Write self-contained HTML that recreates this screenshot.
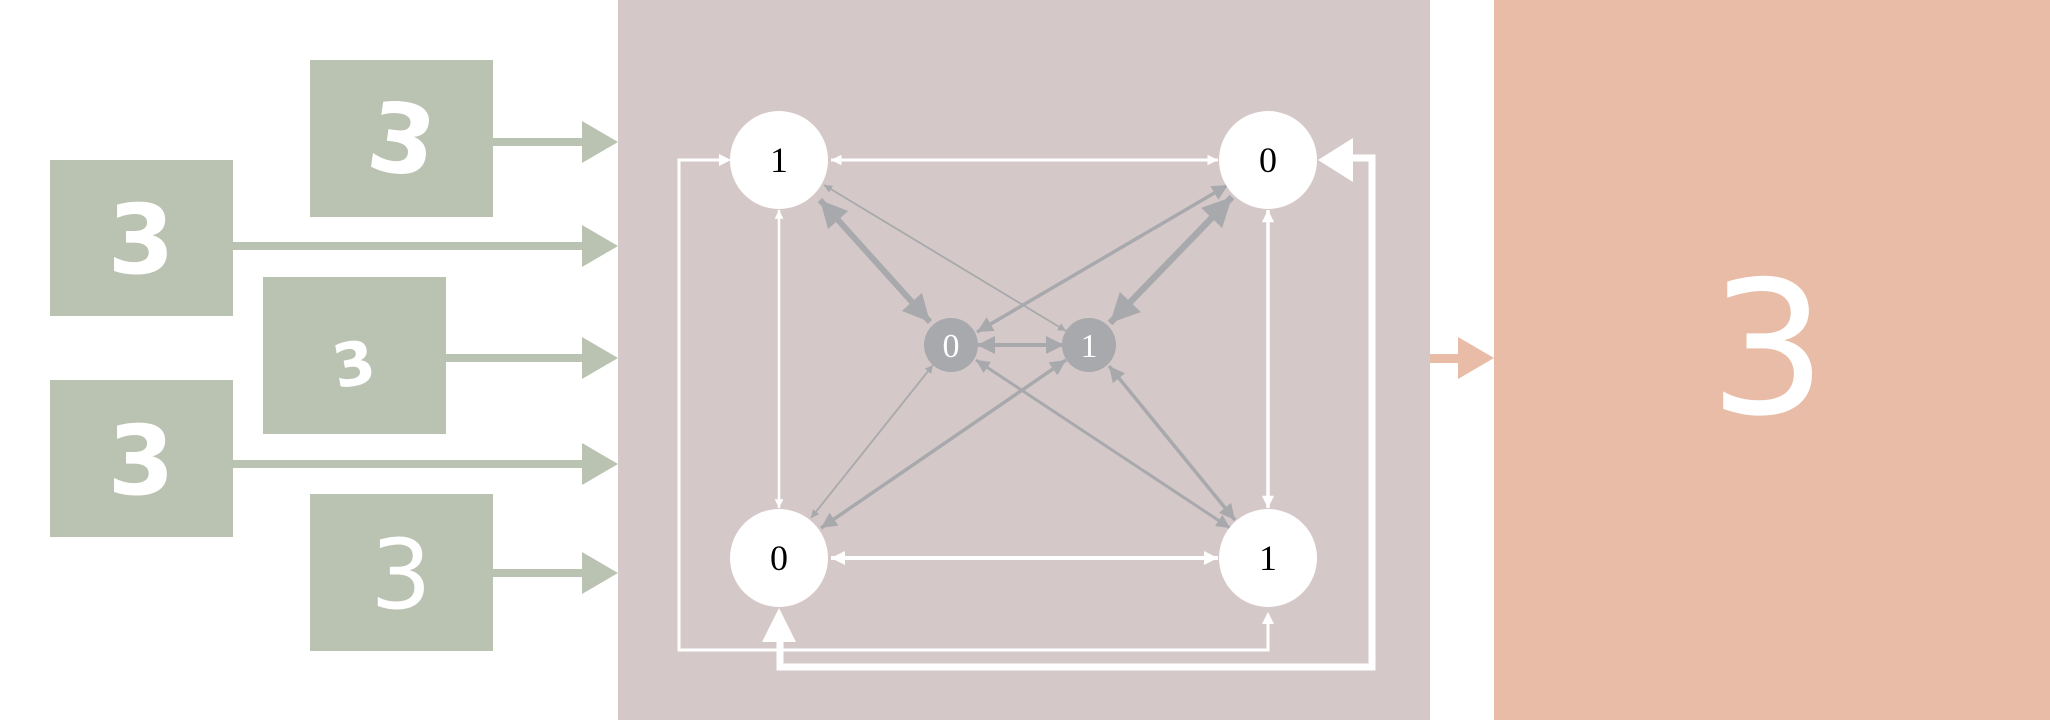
<!DOCTYPE html>
<html><head><meta charset="utf-8"><style>
html,body{margin:0;padding:0;background:#fff;}
svg{display:block;}
</style></head><body>
<svg width="2050" height="720" viewBox="0 0 2050 720" xmlns="http://www.w3.org/2000/svg">
<defs>
<marker id="wa" viewBox="0 0 10 10" refX="10" refY="5" markerWidth="4.5" markerHeight="3.5" orient="auto-start-reverse" markerUnits="strokeWidth"><path d="M0,0 L10,5 L0,10 z" fill="#fff"/></marker>
<marker id="ga" viewBox="0 0 10 10" refX="10" refY="5" markerWidth="5" markerHeight="4.5" orient="auto-start-reverse" markerUnits="strokeWidth"><path d="M0,0 L10,5 L0,10 z" fill="#a8a9ad"/></marker>
</defs>
<g fill="#bac2b1">
<rect x="310" y="60" width="183" height="157"/>
<rect x="50" y="160" width="183" height="156"/>
<rect x="263" y="277" width="183" height="157"/>
<rect x="50" y="380" width="183" height="157"/>
<rect x="310" y="494" width="183" height="157"/>
<rect x="493" y="138" width="90" height="8"/>
<rect x="233" y="242" width="350" height="8"/>
<rect x="446" y="354" width="137" height="8"/>
<rect x="233" y="460" width="350" height="8"/>
<rect x="493" y="569" width="90" height="8"/>
<path d="M582,121 L618,142 L582,163 z"/>
<path d="M582,225 L618,246 L582,267 z"/>
<path d="M582,337 L618,358 L582,379 z"/>
<path d="M582,443 L618,464 L582,485 z"/>
<path d="M582,552 L618,573 L582,594 z"/>
</g>
<g fill="#fff" font-family="DejaVu Sans, sans-serif" font-weight="bold" font-size="96" text-anchor="middle">
<text x="402" y="173" transform="rotate(8 402 140)">3</text>
<text x="141" y="273">3</text>
<text x="354" y="385" font-size="60" transform="rotate(-10 354 365)">3</text>
<text x="141" y="494">3</text>
<text x="401" y="608" font-weight="normal">3</text>
</g>
<rect x="618" y="0" width="812" height="720" fill="#d5c8c8"/>
<rect x="1494" y="0" width="556" height="720" fill="#e8bca6"/>
<rect x="1430" y="354" width="30" height="9" fill="#e8bca6"/>
<path d="M1458,337 L1494,358 L1458,379 z" fill="#e8bca6"/>
<text x="1768" y="413" fill="#fff" font-family="DejaVu Sans, sans-serif" font-size="185" text-anchor="middle">3</text>
<g stroke="#fff" fill="none">
<line x1="831" y1="160" x2="1218" y2="160" stroke-width="3" marker-start="url(#wa)" marker-end="url(#wa)"/>
<line x1="779" y1="210" x2="779" y2="508" stroke-width="2.5" marker-start="url(#wa)" marker-end="url(#wa)"/>
<line x1="1268" y1="210" x2="1268" y2="508" stroke-width="3.5" marker-start="url(#wa)" marker-end="url(#wa)"/>
<line x1="831" y1="558" x2="1218" y2="558" stroke-width="4" marker-start="url(#wa)" marker-end="url(#wa)"/>
<polyline points="719,160 679,160 679,650 1268,650 1268,614" stroke-width="3"/>
<polyline points="780,620 780,667 1372,667 1372,158 1330,158" stroke-width="7"/>
</g>
<g fill="#fff">
<path d="M719,154 L731,160 L719,166 z"/>
<path d="M1262,624 L1268,612 L1274,624 z"/>
<path d="M762,642 L779,608 L796,642 z"/>
<path d="M1353,138 L1318,160 L1353,182 z"/>
</g>
<g stroke="#a8a9ad" fill="none">
<line x1="820" y1="200" x2="930" y2="322" stroke-width="6" marker-start="url(#ga)" marker-end="url(#ga)"/>
<line x1="824" y1="185" x2="1066" y2="331" stroke-width="1.8" marker-start="url(#ga)" marker-end="url(#ga)"/>
<line x1="1228" y1="185" x2="977" y2="332" stroke-width="3.5" marker-start="url(#ga)" marker-end="url(#ga)"/>
<line x1="1232" y1="197" x2="1110" y2="323" stroke-width="6.5" marker-start="url(#ga)" marker-end="url(#ga)"/>
<line x1="977" y1="345" x2="1064" y2="345" stroke-width="4" marker-start="url(#ga)" marker-end="url(#ga)"/>
<line x1="811" y1="518" x2="933" y2="365" stroke-width="1.8" marker-start="url(#ga)" marker-end="url(#ga)"/>
<line x1="821" y1="528" x2="1066" y2="360" stroke-width="3.5" marker-start="url(#ga)" marker-end="url(#ga)"/>
<line x1="1230" y1="528" x2="976" y2="360" stroke-width="3" marker-start="url(#ga)" marker-end="url(#ga)"/>
<line x1="1235" y1="520" x2="1109" y2="366" stroke-width="3.5" marker-start="url(#ga)" marker-end="url(#ga)"/>
</g>
<g fill="#fff">
<circle cx="779" cy="160" r="49"/>
<circle cx="1268" cy="160" r="49"/>
<circle cx="779" cy="558" r="49"/>
<circle cx="1268" cy="558" r="49"/>
</g>
<g fill="#a8a9ad">
<circle cx="951" cy="345" r="27"/>
<circle cx="1089" cy="345" r="27"/>
</g>
<g font-family="Liberation Serif, serif" font-size="36" text-anchor="middle">
<text x="779" y="172" fill="#000">1</text>
<text x="1268" y="172" fill="#000">0</text>
<text x="779" y="570" fill="#000">0</text>
<text x="1268" y="570" fill="#000">1</text>
<text x="951" y="357" fill="#fff" font-size="34">0</text>
<text x="1089" y="357" fill="#fff" font-size="34">1</text>
</g>
</svg>
</body></html>
